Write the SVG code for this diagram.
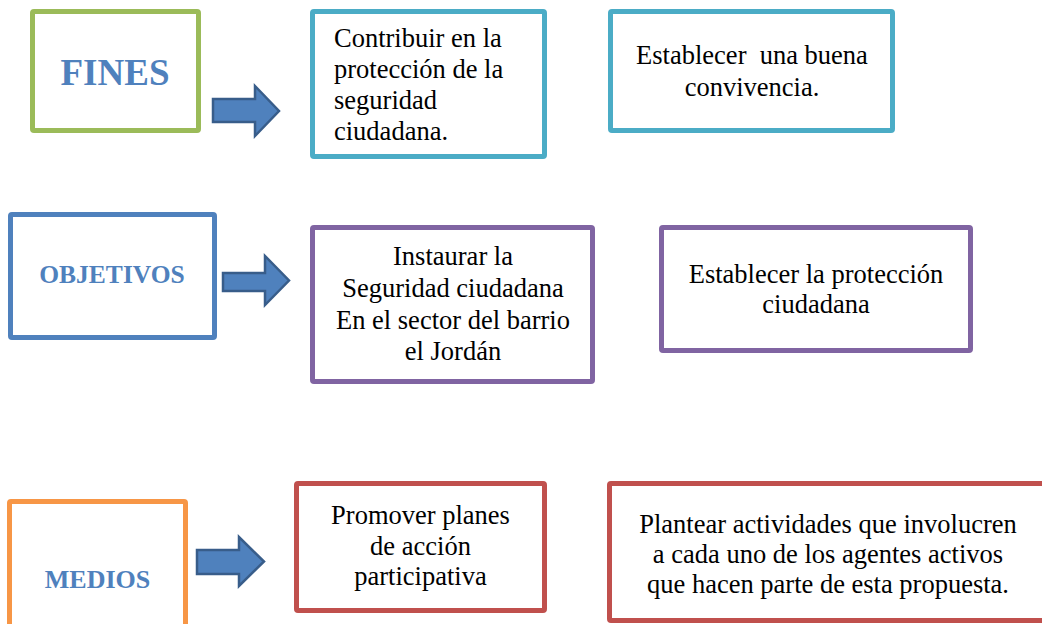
<svg xmlns="http://www.w3.org/2000/svg" width="1042" height="624" viewBox="0 0 1042 624">
<style>
.box{fill:#fff;stroke-width:5}
.t{font-family:"Liberation Serif","Times New Roman",serif;font-size:26.5px;fill:#000}
.c{text-anchor:middle}
.lbl{font-family:"Liberation Serif","Times New Roman",serif;font-weight:bold;fill:#4F81BD;text-anchor:middle}
.arr{fill:#4F81BD;stroke:#385D8A;stroke-width:2.5;stroke-linejoin:miter}
</style>
<rect width="1042" height="624" fill="#fff"/>
<g id="fines">
<rect class="box" x="32.5" y="11.5" width="166" height="119" rx="1.5" stroke="#9BBB59"/>
<text class="lbl" x="115" y="85" font-size="37">FINES</text>
</g>
<g id="fin1">
<rect class="box" x="312.5" y="11.5" width="232" height="145" rx="1.5" stroke="#4BACC6"/>
<text class="t" x="334" y="47">Contribuir en la</text>
<text class="t" x="334" y="78">protección de la</text>
<text class="t" x="334" y="109">seguridad</text>
<text class="t" x="334" y="140">ciudadana.</text>
</g>
<g id="fin2">
<rect class="box" x="610.5" y="11.5" width="282" height="119" rx="1.5" stroke="#4BACC6"/>
<text class="t c" x="752" y="64" xml:space="preserve">Establecer  una buena</text>
<text class="t c" x="752" y="96">convivencia.</text>
</g>
<g id="objetivos">
<rect class="box" x="10.5" y="214.5" width="204" height="123" rx="1.5" stroke="#4F81BD"/>
<text class="lbl" x="112" y="283" font-size="25.5">OBJETIVOS</text>
</g>
<g id="obj1">
<rect class="box" x="312.5" y="227.5" width="280" height="154" rx="1.5" stroke="#8064A2"/>
<text class="t c" x="453" y="265">Instaurar la</text>
<text class="t c" x="453" y="297">Seguridad ciudadana</text>
<text class="t c" x="453" y="329">En el sector del barrio</text>
<text class="t c" x="453" y="360">el Jordán</text>
</g>
<g id="obj2">
<rect class="box" x="661.5" y="227.5" width="309" height="123" rx="1.5" stroke="#8064A2"/>
<text class="t c" x="816" y="283">Establecer la protección</text>
<text class="t c" x="816" y="313">ciudadana</text>
</g>
<g id="medios">
<rect class="box" x="9.5" y="501.5" width="176" height="140" rx="1.5" stroke="#F79646"/>
<text class="lbl" x="97.5" y="588" font-size="26">MEDIOS</text>
</g>
<g id="med1">
<rect class="box" x="296.5" y="483.5" width="248" height="127" rx="1.5" stroke="#C0504D"/>
<text class="t c" x="420.5" y="524">Promover planes</text>
<text class="t c" x="420.5" y="555">de acción</text>
<text class="t c" x="420.5" y="585">participativa</text>
</g>
<g id="med2">
<rect class="box" x="609.5" y="483.5" width="437" height="137" rx="1.5" stroke="#C0504D"/>
<text class="t c" x="828" y="533">Plantear actividades que involucren</text>
<text class="t c" x="828" y="563">a cada uno de los agentes activos</text>
<text class="t c" x="828" y="593">que hacen parte de esta propuesta.</text>
</g>
<g id="connectors">
<path class="arr" d="M213,99 L255,99 L255,86 L279,111 L255,136 L255,122 L213,122 Z"/>
<path class="arr" d="M223,273 L265,273 L265,256 L289,280.5 L265,305 L265,291 L223,291 Z"/>
<path class="arr" d="M197,550 L239,550 L239,537 L264,561.5 L239,586 L239,574 L197,574 Z"/>
</g>
</svg>
